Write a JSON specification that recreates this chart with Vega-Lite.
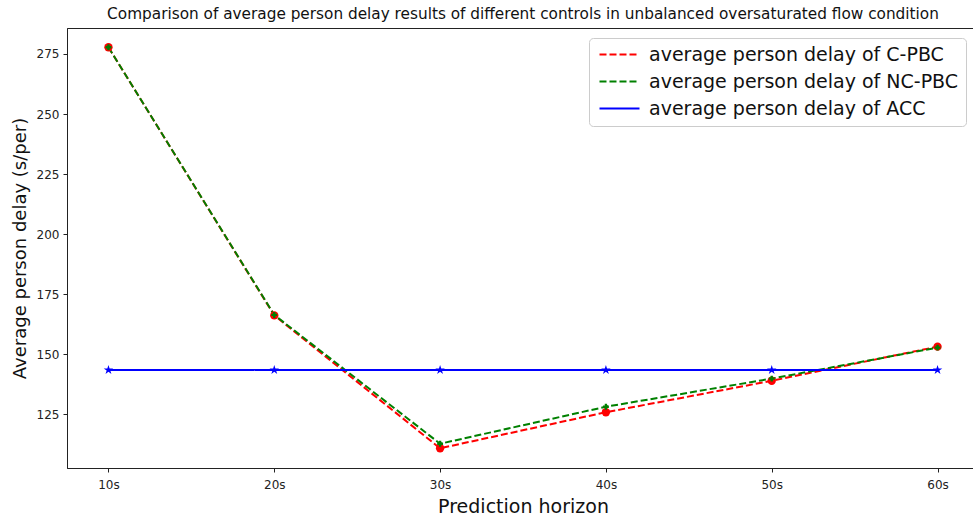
{
  "$schema": "https://vega.github.io/schema/vega-lite/v6.json",
  "autosize": {"type": "none"},
  "padding": {"left": 67, "top": 28, "right": 0, "bottom": 47},
  "width": 912,
  "height": 440,
  "config": {
    "font": "DejaVu Sans",
    "view": {"stroke": "#222222", "strokeWidth": 1},
    "axis": {"grid": false, "domainColor": "#222222", "tickColor": "#222222", "labelColor": "#222222", "titleColor": "#111111", "labelFont": "DejaVu Sans", "titleFont": "DejaVu Sans", "titleFontWeight": "normal"},
    "legend": {"title": null, "orient": "none", "legendX": 522, "legendY": 10, "symbolType": "M-1.2,0H6.8", "symbolSize": 100, "symbolStrokeWidth": 2, "labelFontSize": 19, "labelFont": "DejaVu Sans", "labelColor": "#111111", "labelOffset": 34, "rowPadding": 7, "padding": 7, "strokeColor": "#cccccc", "fillColor": "#ffffff", "cornerRadius": 4, "labelLimit": 400}
  },
  "title": {"text": "Comparison of average person delay results of different controls in unbalanced oversaturated flow condition", "fontSize": 15.3, "fontWeight": "normal", "font": "DejaVu Sans", "color": "#111111", "offset": 6, "anchor": "middle"},
  "data": {"values": [
    {"h": 10, "series": "average person delay of C-PBC", "delay": 277.8},
    {"h": 20, "series": "average person delay of C-PBC", "delay": 166.2},
    {"h": 30, "series": "average person delay of C-PBC", "delay": 110.9},
    {"h": 40, "series": "average person delay of C-PBC", "delay": 125.9},
    {"h": 50, "series": "average person delay of C-PBC", "delay": 139.0},
    {"h": 60, "series": "average person delay of C-PBC", "delay": 153.2},
    {"h": 10, "series": "average person delay of NC-PBC", "delay": 277.8},
    {"h": 20, "series": "average person delay of NC-PBC", "delay": 166.4},
    {"h": 30, "series": "average person delay of NC-PBC", "delay": 112.8},
    {"h": 40, "series": "average person delay of NC-PBC", "delay": 128.2},
    {"h": 50, "series": "average person delay of NC-PBC", "delay": 139.9},
    {"h": 60, "series": "average person delay of NC-PBC", "delay": 152.8},
    {"h": 10, "series": "average person delay of ACC", "delay": 143.5},
    {"h": 20, "series": "average person delay of ACC", "delay": 143.5},
    {"h": 30, "series": "average person delay of ACC", "delay": 143.5},
    {"h": 40, "series": "average person delay of ACC", "delay": 143.5},
    {"h": 50, "series": "average person delay of ACC", "delay": 143.5},
    {"h": 60, "series": "average person delay of ACC", "delay": 143.5}
  ]},
  "encoding": {
    "x": {"field": "h", "type": "quantitative", "scale": {"domain": [7.5, 62.5], "nice": false, "zero": false},
      "axis": {"title": "Prediction horizon", "titleFontSize": 19, "titlePadding": 7, "values": [10, 20, 30, 40, 50, 60], "labelExpr": "datum.value + 's'", "labelFontSize": 12, "tickSize": 4, "labelPadding": 7, "labelFlush": false}},
    "y": {"field": "delay", "type": "quantitative", "scale": {"domain": [102.7, 285.8], "nice": false, "zero": false},
      "axis": {"title": "Average person delay (s/per)", "titleFontSize": 18, "titlePadding": 7, "values": [125, 150, 175, 200, 225, 250, 275], "labelFontSize": 12, "tickSize": 4, "labelPadding": 4}}
  },
  "layer": [
    {
      "mark": {"type": "line", "strokeWidth": 2},
      "encoding": {
        "color": {"field": "series", "type": "nominal",
          "scale": {"domain": ["average person delay of C-PBC", "average person delay of NC-PBC", "average person delay of ACC"], "range": ["#ff0000", "#008000", "#0000ff"]}},
        "strokeDash": {"field": "series", "type": "nominal",
          "scale": {"domain": ["average person delay of C-PBC", "average person delay of NC-PBC", "average person delay of ACC"], "range": [[7, 3], [7, 3], [1, 0]]}}
      }
    },
    {
      "transform": [{"filter": "datum.series === 'average person delay of C-PBC'"}],
      "mark": {"type": "point", "filled": true, "shape": "circle", "size": 70, "color": "#ff0000", "opacity": 1}
    },
    {
      "transform": [{"filter": "datum.series === 'average person delay of NC-PBC'"}],
      "mark": {"type": "point", "filled": true, "shape": "cross", "size": 35, "color": "#008000", "opacity": 1}
    },
    {
      "transform": [{"filter": "datum.series === 'average person delay of ACC'"}],
      "mark": {"type": "point", "filled": true, "shape": "M0,-1L0.2245,-0.309L0.951,-0.309L0.363,0.118L0.588,0.809L0,0.382L-0.588,0.809L-0.363,0.118L-0.951,-0.309L-0.2245,-0.309Z", "size": 100, "color": "#0000ff", "opacity": 1}
    }
  ]
}
